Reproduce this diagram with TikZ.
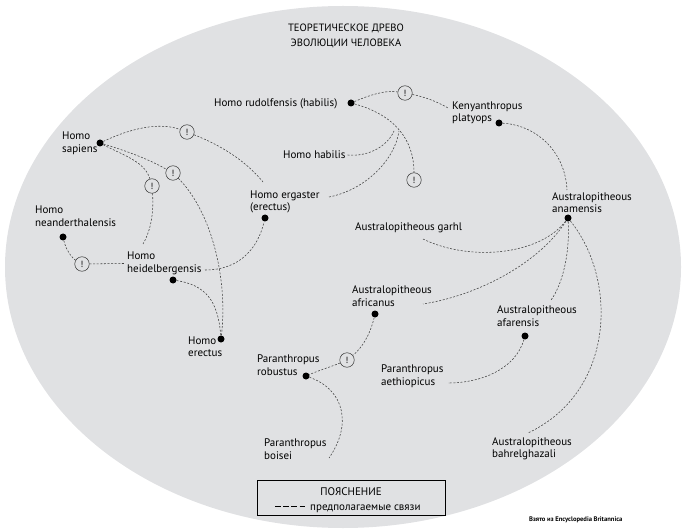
\documentclass[tikz,border=0pt]{standalone}
\usepackage{fontspec}
\setmainfont{PT Sans}
\begin{document}
\begin{tikzpicture}[x=1pt, y=-1pt,
	dot/.style={circle, fill=black, inner sep=0pt, minimum size=7pt},
	warn/.style={circle, draw=black!80, line width=0.5pt, inner sep=0pt, minimum size=14.5pt, font=\fontsize{9}{9}\selectfont},
	lbl/.style={anchor=west, align=left, inner sep=0pt, font=\fontsize{11}{12.5}\selectfont},
	link/.style={draw=black!75, line width=0.55pt, dash pattern=on 2pt off 1.6pt}]
	\useasboundingbox (0,0) rectangle (690,529);
	\fill[fill={rgb,255:red,224;green,225;blue,227}] (343,267) ellipse [x radius=338pt, y radius=261pt];

	\node[align=center, font=\fontsize{10.6}{15}\selectfont] (title) at (346,36) {ТЕОРЕТИЧЕСКОЕ ДРЕВО\\ЭВОЛЮЦИИ ЧЕЛОВЕКА};

	% Homo
	\node[lbl] (sapL) at (62,143.5) {Homo\\sapiens};
	\node[dot] (sap) at (100,143) {};
	\node[lbl] (neaL) at (35,216) {Homo\\neanderthalensis};
	\node[dot] (nea) at (63,237) {};
	\node[lbl] (heiL) at (127,263.5) {Homo\\heidelbergensis};
	\node[dot] (hei) at (173,280) {};
	\node[lbl] (ereL) at (188,346.5) {Homo\\erectus};
	\node[dot] (ere) at (221,339) {};
	\node[lbl] (ergL) at (250,202) {Homo ergaster\\(erectus)};
	\node[dot] (erg) at (265,218) {};
	\node[lbl] (rudL) at (214,104) {Homo rudolfensis (habilis)};
	\node[dot] (rud) at (351,103) {};
	\node[lbl] (habL) at (283,155) {Homo habilis};

	% Kenyanthropus, Australopitheous, Paranthropus
	\node[lbl] (kenL) at (452,113) {Kenyanthropus\\platyops};
	\node[dot] (ken) at (499,123) {};
	\node[lbl] (anaL) at (552,202.5) {Australopitheous\\anamensis};
	\node[dot] (ana) at (568,218) {};
	\node[lbl] (garL) at (355,228) {Australopitheous garhl};
	\node[lbl] (afrL) at (352,296) {Australopitheous\\africanus};
	\node[dot] (afr) at (375,314) {};
	\node[lbl] (afaL) at (497,316) {Australopitheous\\afarensis};
	\node[dot] (afa) at (525,336) {};
	\node[lbl] (aetL) at (381,376) {Paranthropus\\aethiopicus};
	\node[lbl] (bahL) at (492,449) {Australopitheous\\bahrelghazali};
	\node[lbl] (robL) at (257,365) {Paranthropus\\robustus};
	\node[dot] (rob) at (306,376) {};
	\node[lbl] (boiL) at (264,449) {Paranthropus\\boisei};

	% !
	\node[warn] (w1) at (187,132) {!};
	\node[warn] (w2) at (173,173) {!};
	\node[warn] (w3) at (152,186) {!};
	\node[warn] (w4) at (82,264) {!};
	\node[warn] (w5) at (405,93) {!};
	\node[warn] (w6) at (414,180) {!};
	\node[warn] (w7) at (347,360) {!};

	\coordinate (ergN) at (263,182);
	\coordinate (heiN) at (143,244);
	\coordinate (heiE) at (205,270);
	\coordinate (kenW) at (448,108);
	\coordinate (habJ) at (394,131);
	\coordinate (ergE) at (329,197);
	\coordinate (ergJ) at (399,131);
	\coordinate (anaN) at (567,190);
	\coordinate (garS) at (423,239);
	\coordinate (afrE) at (423,304);
	\coordinate (afaN) at (551,300);
	\coordinate (bahN) at (528,433);
	\coordinate (aetE) at (448,383);
	\coordinate (boiN) at (329,458);

	\draw[link] (sap) .. controls (140,124) and (165,124) .. (w1);
	\draw[link] (w1) .. controls (220,145) and (245,160) .. (ergN);
	\draw[link] (sap) .. controls (130,152) and (150,160) .. (w2);
	\draw[link] (w2) .. controls (212,212) and (228,280) .. (ere);
	\draw[link] (sap) .. controls (125,156) and (145,162) .. (w3);
	\draw[link] (w3) .. controls (154,215) and (150,232) .. (heiN);
	\draw[link] (nea) .. controls (66,250) and (72,258) .. (w4);
	\draw[link] (w4) -- ([xshift=-3pt]heiL.west);
	\draw[link] (heiE) .. controls (240,270) and (258,248) .. (erg);
	\draw[link] (hei) .. controls (205,285) and (218,300) .. (ere);
	\draw[link] (rud) .. controls (370,95) and (385,90) .. (w5);
	\draw[link] (w5) .. controls (425,97) and (438,102) .. (kenW);
	\draw[link] (rud) .. controls (395,115) and (414,140) .. (w6);
	\draw[link] ([xshift=2pt]habL.east) .. controls (370,157) and (388,145) .. (habJ);
	\draw[link] (ergE) .. controls (365,190) and (395,160) .. (ergJ);
	\draw[link] (ken) .. controls (535,125) and (565,150) .. (anaN);
	\draw[link] (garS) .. controls (470,262) and (540,255) .. (ana);
	\draw[link] (ana) .. controls (540,262) and (480,295) .. (afrE);
	\draw[link] (ana) .. controls (570,255) and (562,285) .. (afaN);
	\draw[link] (ana) .. controls (618,280) and (615,392) .. (bahN);
	\draw[link] (afa) .. controls (515,370) and (480,383) .. (aetE);
	\draw[link] (afr) .. controls (370,335) and (362,348) .. (w7);
	\draw[link] (w7) .. controls (333,366) and (320,370) .. (rob);
	\draw[link] (rob) .. controls (345,390) and (352,425) .. (boiN);

	% legend
	\node[draw, line width=0.6pt, minimum width=188pt, minimum height=35pt, inner sep=0pt] (leg) at (351,497.5) {};
	\node[font=\fontsize{11}{11}\selectfont] (legT) at (351,492) {ПОЯСНЕНИЕ};
	\coordinate (legA) at (275,506.5);
	\coordinate (legB) at (305,506.5);
	\draw[line width=0.6pt, dash pattern=on 5.5pt off 2.7pt] (legA) -- (legB);
	\node[lbl] (legD) at (310,508.5) {предполагаемые связи};

	\node[anchor=west, inner sep=0pt, font=\bfseries\fontsize{6.6}{6.6}\selectfont] (src) at (529,520) {Взято из Encyclopedia Britannica};
\end{tikzpicture}
\end{document}
